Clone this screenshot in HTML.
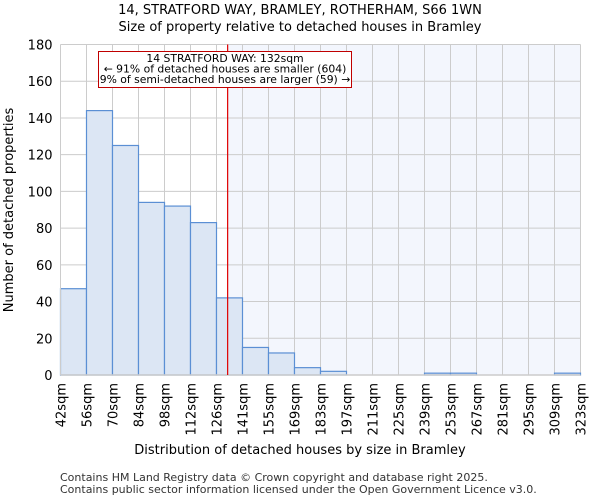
<!DOCTYPE html>
<html><head><meta charset="utf-8"><style>
body{margin:0;background:#fff;font-family:"DejaVu Sans","Liberation Sans",sans-serif;}
</style></head><body>
<svg width="600" height="500" xmlns="http://www.w3.org/2000/svg" id="chart" font-family="DejaVu Sans, Liberation Sans, sans-serif">
<text x="300" y="14" text-anchor="middle" font-size="13">14, STRATFORD WAY, BRAMLEY, ROTHERHAM, S66 1WN</text>
<text x="300" y="31" text-anchor="middle" font-size="13">Size of property relative to detached houses in Bramley</text>
<g id="plot"></g>
<text x="300" y="454" text-anchor="middle" font-size="13">Distribution of detached houses by size in Bramley</text>
<text transform="translate(13,210) rotate(-90)" text-anchor="middle" font-size="13">Number of detached properties</text>
<text x="60" y="481" font-size="11" fill="#333">Contains HM Land Registry data © Crown copyright and database right 2025.</text>
<text x="60" y="493" font-size="11" fill="#333">Contains public sector information licensed under the Open Government Licence v3.0.</text>
</svg>
<script>
const binLabels=["42sqm","56sqm","70sqm","84sqm","98sqm","112sqm","126sqm","141sqm","155sqm","169sqm","183sqm","197sqm","211sqm","225sqm","239sqm","253sqm","267sqm","281sqm","295sqm","309sqm","323sqm"];
const counts=[47,144,125,94,92,83,42,15,12,4,2,0,0,0,1,1,0,0,0,1];
const yTicks=[0,20,40,60,80,100,120,140,160,180];
const propertySize=132;
const binStart=42, binStep=14;
const NS="http://www.w3.org/2000/svg";
const L=60.5,R=580.5,T=44.5,B=375;
const bw=(R-L)/counts.length;
const x=i=>L+i*bw;
const xv=v=>L+(v-binStart)/binStep*bw;
const y=v=>B-v/180*(B-T);
const g=document.getElementById('plot');
function mk(t,a){const e=document.createElementNS(NS,t);for(const k in a)e.setAttribute(k,a[k]);g.appendChild(e);return e;}
const px=xv(propertySize);
let e=mk('rect',{x:px,y:T,width:R-px,height:B-T,fill:'#f3f6fd'});


yTicks.forEach(v=>{
 let l=mk('line',{x1:L,x2:R,y1:y(v),y2:y(v),stroke:'#cccccc','stroke-width':1});
 
 
 let t=mk('text',{x:L-8,y:y(v)+5,'text-anchor':'end','font-size':13});
 t.textContent=v;
 
 
});
binLabels.forEach((s,i)=>{
 let l=mk('line',{x1:x(i),x2:x(i),y1:T,y2:B,stroke:'#cccccc','stroke-width':1});
 
 
 let t=mk('text',{transform:`translate(${x(i)+5},${B+8}) rotate(-90)`,'text-anchor':'end','font-size':13});
 t.textContent=s;
 
 
});
counts.forEach((c,i)=>{
 if(c<=0)return;
 let r=mk('rect',{x:x(i),y:y(c),width:bw,height:B-y(c),fill:'#dce6f4',stroke:'#5b8fd4','stroke-width':1.2});
 
 
});
e=mk('line',{x1:L,x2:L,y1:T,y2:B,stroke:'#ccc'});


e=mk('line',{x1:L,x2:R,y1:B,y2:B,stroke:'#ccc','stroke-width':1.5});


e=mk('line',{x1:px,x2:px,y1:T,y2:B,stroke:'#e00000','stroke-width':1.2});


e=mk('rect',{x:98.5,y:51.5,width:253,height:36,fill:'#fff',stroke:'#c00000','stroke-width':1});


["14 STRATFORD WAY: 132sqm","← 91% of detached houses are smaller (604)","9% of semi-detached houses are larger (59) →"].forEach((s,i)=>{
 let t=mk('text',{x:225,y:62+i*10.5,'text-anchor':'middle','font-size':10.8});
 t.textContent=s;
 
 
});
</script>
</body></html>
